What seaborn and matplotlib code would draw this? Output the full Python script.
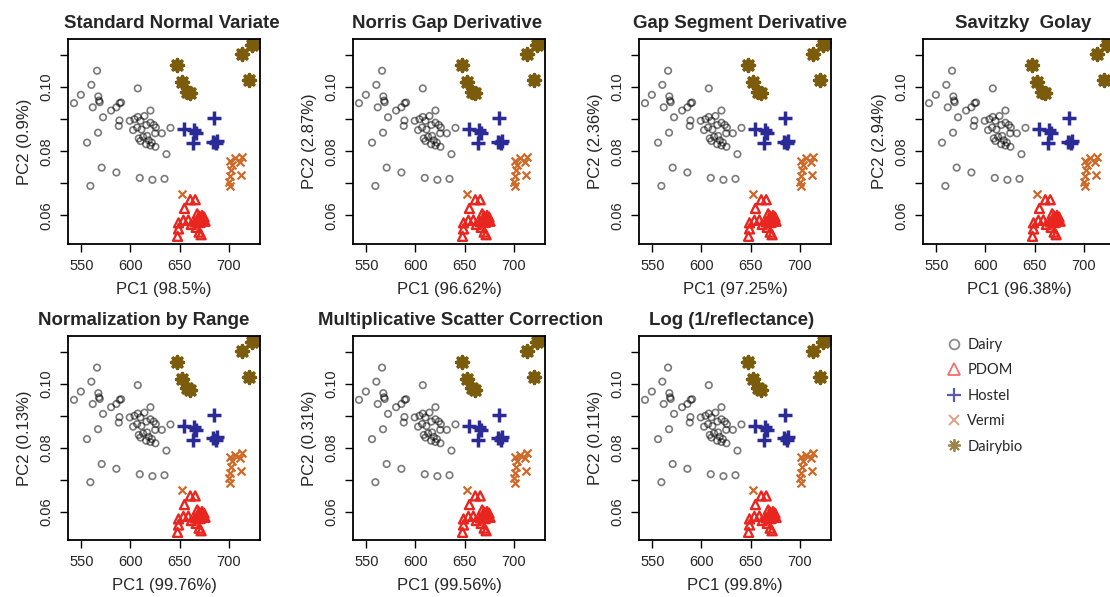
import numpy as np
import pandas as pd
import matplotlib
matplotlib.use("Agg")
import matplotlib.pyplot as plt
from matplotlib.lines import Line2D
import seaborn as sns

# ---------------- data ----------------
titles = ["Standard Normal Variate", "Norris Gap Derivative", "Gap Segment Derivative",
          "Savitzky  Golay", "Normalization by Range", "Multiplicative Scatter Correction",
          "Log (1/reflectance)"]
pc1_labels = ["PC1 (98.5%)", "PC1 (96.62%)", "PC1 (97.25%)", "PC1 (96.38%)",
              "PC1 (99.76%)", "PC1 (99.56%)", "PC1 (99.8%)"]
pc2_labels = ["PC2 (0.9%)", "PC2 (2.87%)", "PC2 (2.36%)", "PC2 (2.94%)",
              "PC2 (0.13%)", "PC2 (0.31%)", "PC2 (0.11%)"]
groups = ["Dairy", "PDOM", "Hostel", "Vermi", "Dairybio"]

dairy_pc1 = [542.5, 549.5, 566.0, 560.2, 561.6, 567.3, 568.0, 568.7, 572.1, 555.8,
             567.0, 580.3, 585.7, 589.1, 590.5, 588.8, 588.1, 607.5, 570.7, 585.7,
             559.2, 609.5, 622.4, 634.7, 636.7, 640.8, 632.0, 599.3, 604.1, 607.5,
             610.2, 614.3, 620.4, 602.7, 606.8, 611.2, 616.3, 620.4, 623.8, 625.9,
             625.2, 608.5, 612.9, 617.0, 610.2, 618.7, 621.8, 620.4, 625.5, 616.0]
dairy_pc2 = [0.0950, 0.0976, 0.1051, 0.1007, 0.0937, 0.0971, 0.0958, 0.0953, 0.0906, 0.0827,
             0.0858, 0.0927, 0.0937, 0.0950, 0.0952, 0.0896, 0.0879, 0.0996, 0.0749, 0.0734,
             0.0692, 0.0717, 0.0711, 0.0714, 0.0791, 0.0873, 0.0856, 0.0895, 0.0900, 0.0907,
             0.0895, 0.0910, 0.0927, 0.0866, 0.0874, 0.0868, 0.0882, 0.0889, 0.0882, 0.0874,
             0.0856, 0.0840, 0.0845, 0.0848, 0.0832, 0.0834, 0.0827, 0.0818, 0.0814, 0.0822]

pdom_pc1 = [648.0, 649.0, 649.0, 654.0, 655.0, 661.0, 666.0, 659.0, 662.0, 667.0,
            670.0, 672.0, 668.0, 670.0, 672.0, 674.0, 676.0, 671.0, 673.0, 669.0,
            675.0, 666.0]
pdom_pc2 = [0.0535, 0.0558, 0.0577, 0.0585, 0.0622, 0.0649, 0.0649, 0.0586, 0.0572, 0.0563,
            0.0548, 0.0540, 0.0605, 0.0598, 0.0592, 0.0588, 0.0582, 0.0578, 0.0600, 0.0590,
            0.0595, 0.0580]

hostel_pc1 = [654.4, 664.6, 666.3, 663.9, 685.0, 684.4, 688.4, 686.7]
hostel_pc2 = [0.0869, 0.0866, 0.0856, 0.0825, 0.0903, 0.0830, 0.0833, 0.0825]

vermi_pc1 = [652.7, 701.4, 706.1, 713.9, 703.7, 702.0, 711.6, 701.0, 700.3, 701.4, 712.9]
vermi_pc2 = [0.0668, 0.0770, 0.0778, 0.0783, 0.0757, 0.0741, 0.0767, 0.0722, 0.0704, 0.0691, 0.0727]

dairybio_pc1 = [647.6, 652.7, 660.5, 657.8, 713.9, 723.5, 720.7, 725.9]
dairybio_pc2 = [0.1070, 0.1015, 0.0981, 0.0986, 0.1104, 0.1130, 0.1023, 0.1136]

x_ticks = [550, 600, 650, 700]
y_ticks = [0.06, 0.07, 0.08, 0.09, 0.10, 0.11]
y_ticklabels = ["0.06", "", "0.08", "", "0.10", ""]

df = pd.concat([
    pd.DataFrame({"PC1": dairy_pc1, "PC2": dairy_pc2, "group": "Dairy"}),
    pd.DataFrame({"PC1": pdom_pc1, "PC2": pdom_pc2, "group": "PDOM"}),
    pd.DataFrame({"PC1": hostel_pc1, "PC2": hostel_pc2, "group": "Hostel"}),
    pd.DataFrame({"PC1": vermi_pc1, "PC2": vermi_pc2, "group": "Vermi"}),
    pd.DataFrame({"PC1": dairybio_pc1, "PC2": dairybio_pc2, "group": "Dairybio"}),
], ignore_index=True)

# ---------------- style ----------------
sns.set_style("white")
plt.rcParams["font.family"] = ["Liberation Sans", "DejaVu Sans"]

styles = {
    "Dairy":    dict(marker="o", s=22, facecolors="none", edgecolors=(0, 0, 0, 0.52), linewidths=1.2),
    "PDOM":     dict(marker="^", s=42, facecolors="none", edgecolors="#E8261F", linewidths=1.7),
    "Hostel":   dict(marker="+", s=95, color="#2B2B98", linewidths=2.5),
    "Vermi":    dict(marker="x", s=32, color="#CD6A2A", linewidths=1.6),
    "Dairybio": dict(marker=(8, 2, 0), s=72, color="#7B5B0C", linewidths=2.6),
}

W, H = 1110, 597
fig = plt.figure(figsize=(W / 100, H / 100), dpi=100)

# axes boxes in pixels: (left, top, width, height)
boxes = [(68, 39, 192, 205), (353, 39, 192, 205), (639, 39, 192, 205), (923, 39, 192, 205),
         (68, 336, 192, 204), (353, 336, 192, 204), (639, 336, 192, 204)]
title_dx = [8, -2, 5, 4, -20, 12, -3]

for i, (l, t, w, h) in enumerate(boxes):
    ax = fig.add_axes([l / W, 1 - (t + h) / H, w / W, h / H])
    for g in groups:
        sub = df[df["group"] == g]
        sns.scatterplot(data=sub, x="PC1", y="PC2", ax=ax, legend=False, **styles[g])
    ax.set_xlim(536.4, 732.0)
    ax.set_ylim(0.0511, 0.1150)
    ax.set_xticks(x_ticks)
    ax.set_xticklabels([str(v) for v in x_ticks], fontsize=10.5)
    ax.set_yticks(y_ticks)
    ax.set_yticklabels(y_ticklabels, fontsize=10.5, rotation=90, va="center")
    ax.tick_params(direction="out", length=5.5, width=1.0, color="black", pad=5,
                   bottom=True, left=True)
    for sp in ax.spines.values():
        sp.set_color("black")
        sp.set_linewidth(1.3)
    ax.set_xlabel(pc1_labels[i], fontsize=12)
    ax.set_ylabel(pc2_labels[i], fontsize=12)
    ax.xaxis.set_label_coords(0.5, -38 / h)
    ax.yaxis.set_label_coords(-36 / w, 0.5)
    ax.set_title(titles[i], fontsize=13.4, fontweight="bold", pad=8,
                 x=0.5 + title_dx[i] / w)

# ---------------- legend ----------------
handles = [
    Line2D([], [], ls="none", marker="o", ms=7, mfc="none", mec="#8a8a8a", mew=1.3),
    Line2D([], [], ls="none", marker="^", ms=8, mfc="none", mec="#F27070", mew=1.3),
    Line2D([], [], ls="none", marker="+", ms=10, color="#5A5AB0", mew=1.6),
    Line2D([], [], ls="none", marker="x", ms=7, color="#E39A78", mew=1.3),
    Line2D([], [], ls="none", marker=(8, 2, 0), ms=9, color="#9C8448", mew=1.3),
]
fig.legend(handles, groups, loc="upper left", bbox_to_anchor=(947 / W, 1 - 338 / H),
           frameon=False, prop={"family": ["Lato", "DejaVu Sans"], "size": 10.5},
           handlelength=1.0, handletextpad=0.4, labelspacing=0.78, borderpad=0,
           borderaxespad=0)

fig.savefig("out.png", dpi=100)
